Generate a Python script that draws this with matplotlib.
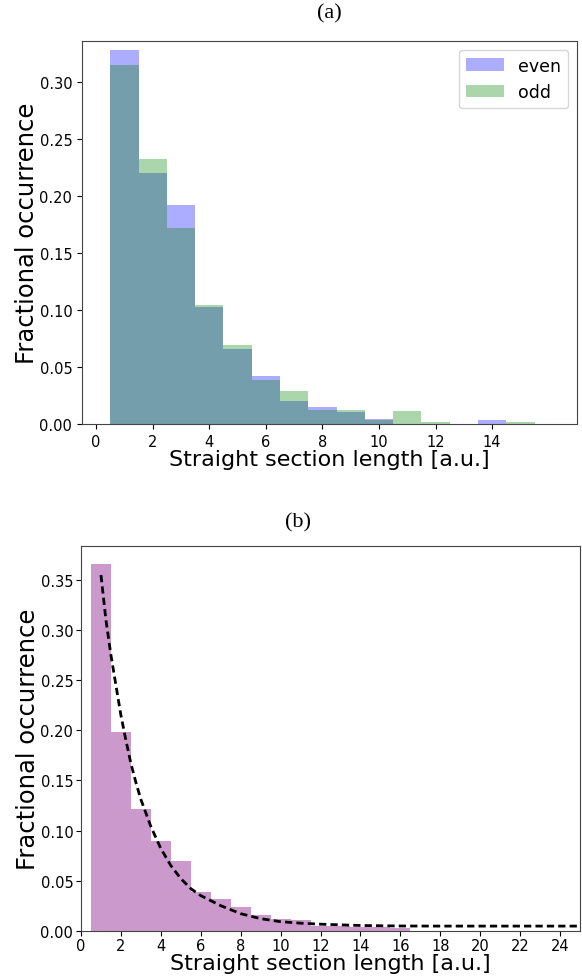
import matplotlib
matplotlib.use("Agg")
import matplotlib.pyplot as plt
import numpy as np

# (a) straight section lengths, split into even / odd sets
lengths_a = [1, 2, 3, 4, 5, 6, 7, 8, 9, 10, 11, 12, 13, 14, 15]
frac_even = [0.328, 0.220, 0.192, 0.103, 0.066, 0.042, 0.020, 0.0146, 0.0102,
             0.004, 0.0, 0.0, 0.0, 0.0035, 0.0]
frac_odd = [0.3146, 0.2325, 0.172, 0.1047, 0.0696, 0.0389, 0.0287, 0.0126, 0.0123,
            0.0035, 0.011, 0.0018, 0.0, 0.0, 0.0018]

# (b) all sections together plus the exponential fit
lengths_b = [1, 2, 3, 4, 5, 6, 7, 8, 9, 10, 11, 12, 13, 14, 15, 16]
frac_all = [0.366, 0.1987, 0.121, 0.0893, 0.0693, 0.0388, 0.0314, 0.0238, 0.0155,
            0.0115, 0.0105, 0.005, 0.0045, 0.004, 0.0035, 0.003]
fit_x = [1.0, 1.25, 1.5, 1.75, 2.0, 2.25, 2.5, 2.75, 3.0, 3.5, 4.0, 4.5, 5.0, 5.5,
         6.0, 7.0, 8.0, 9.0, 10.0, 11.0, 12.0, 14.0, 16.0, 18.0, 20.0, 25.0]
fit_y = [0.355, 0.310, 0.275, 0.245, 0.215, 0.190, 0.167, 0.148, 0.131, 0.104,
         0.082, 0.065, 0.052, 0.042, 0.035, 0.025, 0.017, 0.012, 0.009, 0.0075,
         0.0065, 0.0052, 0.0047, 0.0046, 0.0046, 0.0046]

W, H = 582, 979
fig = plt.figure(figsize=(W / 100, H / 100), dpi=100)

xlabel_fs = 16
ylabel_fs = 17.5
tick_fs = 10.5

# panel (a)
ax1 = fig.add_axes([82 / W, 1 - 425 / H, 495 / W, 383 / H])
ax1.bar(lengths_a, frac_even, width=1.0, color='blue', alpha=0.32, linewidth=0, label='even')
ax1.bar(lengths_a, frac_odd, width=1.0, color='green', alpha=0.33, linewidth=0, label='odd')
ax1.set_xlim(-0.5, 17)
ax1.set_ylim(0, 0.336)
ax1.set_xticks(np.arange(0, 16, 2))
ax1.set_yticks(np.arange(0, 0.31, 0.05))
ax1.yaxis.set_major_formatter(matplotlib.ticker.FormatStrFormatter('%.2f'))
ax1.tick_params(labelsize=tick_fs)
ax1.set_xlabel("Straight section length [a.u.]", fontsize=xlabel_fs, labelpad=0)
ax1.set_ylabel("Fractional occurrence", fontsize=ylabel_fs, labelpad=0)
ax1.legend(loc='upper right', fontsize=12.5, handlelength=2.2)

# panel (b)
ax2 = fig.add_axes([81 / W, 1 - 931.7 / H, 499 / W, 384.7 / H])
ax2.bar(lengths_b, frac_all, width=1.0, color='purple', alpha=0.4, linewidth=0)
ax2.plot(fit_x, fit_y, color='black', lw=2, linestyle=(0, (2.6, 1.5)))
ax2.set_xlim(0, 25)
ax2.set_ylim(0, 0.384)
ax2.set_xticks(np.arange(0, 25, 2))
ax2.set_yticks(np.arange(0, 0.36, 0.05))
ax2.yaxis.set_major_formatter(matplotlib.ticker.FormatStrFormatter('%.2f'))
ax2.tick_params(labelsize=tick_fs, pad=2)
ax2.set_xlabel("Straight section length [a.u.]", fontsize=xlabel_fs, labelpad=0)
ax2.set_ylabel("Fractional occurrence", fontsize=ylabel_fs, labelpad=0)

for ax in (ax1, ax2):
    for sp in ax.spines.values():
        sp.set_color('#444444')

fig.text(329 / W, 1 - 14 / H, "(a)", family='Liberation Serif', fontsize=16,
         ha='center', va='center')
fig.text(298 / W, 1 - 523 / H, "(b)", family='Liberation Serif', fontsize=16,
         ha='center', va='center')

fig.savefig("out.png", dpi=100)
